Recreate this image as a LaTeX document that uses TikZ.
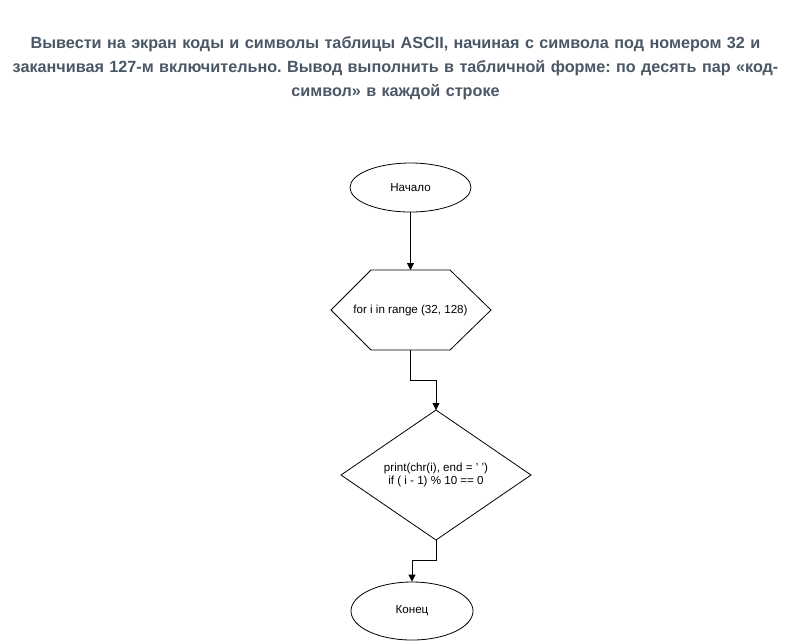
\documentclass[tikz,border=0pt]{standalone}
\usepackage{fontspec}
\setmainfont{Liberation Sans}
\usetikzlibrary{shapes.geometric,arrows.meta}
\definecolor{titlecol}{RGB}{74,87,102}
\frenchspacing
\begin{document}
\begin{tikzpicture}[x=1pt,y=-1pt,
  shapebox/.style={draw=black,line width=0.8pt,fill=white,font=\fontsize{11.6}{13.5}\selectfont,align=center,inner sep=0pt},
  conn/.style={draw=black,line width=0.8pt,-{Triangle[length=7pt,width=7pt]}}]
\useasboundingbox (0,0) rectangle (791,641);
\node[titlecol,font=\bfseries\fontsize{16.2}{24}\selectfont,align=center,text width=785pt] (title) at (395.5,68)
 {Вывести на экран коды и символы таблицы ASCII, начиная с символа под номером 32 и\\заканчивая 127-м включительно. Вывод выполнить в табличной форме: по десять пар «код-\\символ» в каждой строке};
\node[shapebox,ellipse,minimum width=121pt,minimum height=49pt] (start) at (410.5,187.5) {Начало};
\coordinate (h1) at (331,310);
\coordinate (h2) at (371,270);
\coordinate (h3) at (450,270);
\coordinate (h4) at (491,310);
\coordinate (h5) at (450,350);
\coordinate (h6) at (371,350);
\draw[line width=0.8pt] (h1)--(h2)--(h3)--(h4)--(h5)--(h6)--cycle;
\node[font=\fontsize{11.6}{13.5}\selectfont] (loop) at (410.5,310) {for i in range (32, 128)};
\coordinate (looptop) at (410.5,270);
\coordinate (loopbot) at (410.5,350);
\coordinate (d1) at (341,475);
\coordinate (d2) at (436,410);
\coordinate (d3) at (531,475);
\coordinate (d4) at (436,540);
\draw[line width=0.8pt] (d1)--(d2)--(d3)--(d4)--cycle;
\node[font=\fontsize{11.6}{13.5}\selectfont,align=center] (cond) at (436,475) {print(chr(i), end = ' ')\\if ( i - 1) \% 10 == 0};
\node[shapebox,ellipse,minimum width=122pt,minimum height=58pt] (end) at (412,611) {Конец};
\draw[conn] (start.south) -- (looptop);
\draw[conn] (loopbot) -- (410.5,380) -- (436,380) -- (d2);
\draw[conn] (d4) -- (436,560) -- (412,560) -- (end.north);
\end{tikzpicture}
\end{document}
